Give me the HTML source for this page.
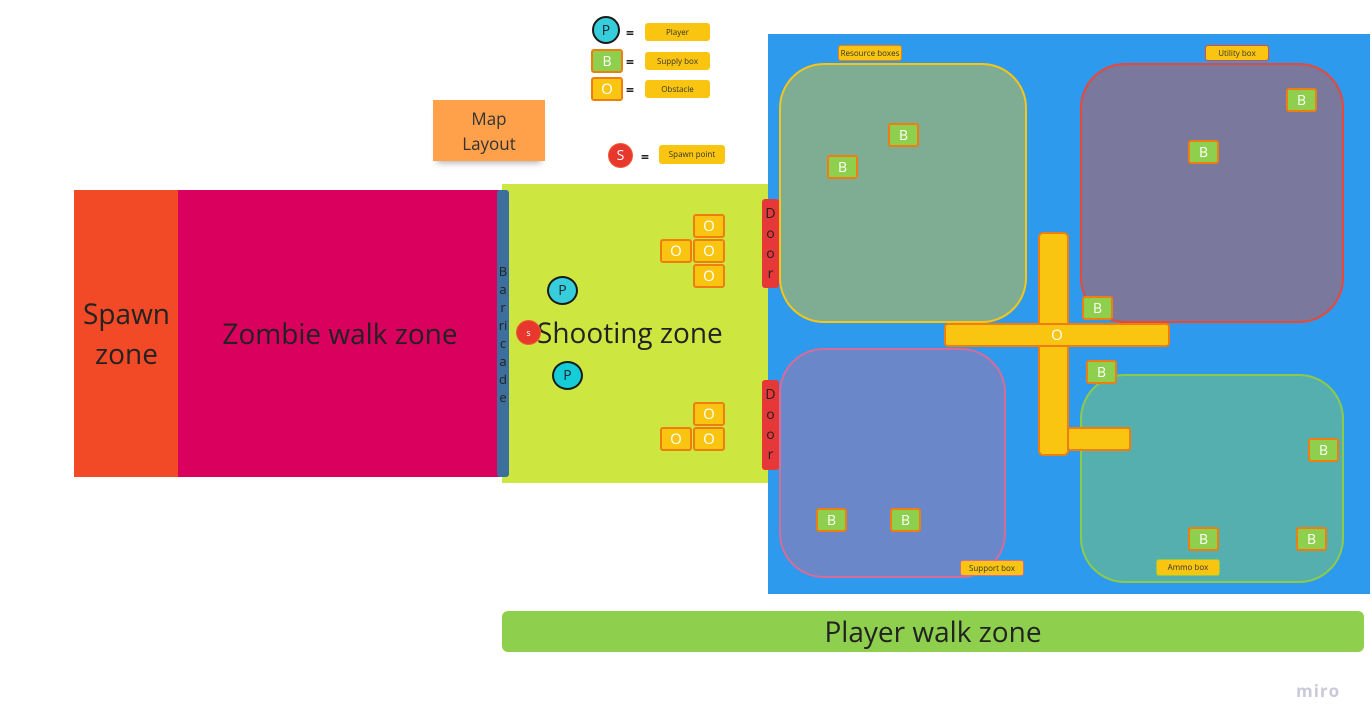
<!DOCTYPE html>
<html><head><meta charset="utf-8"><style>
body{margin:0;width:1372px;height:728px;background:#fff;position:relative;overflow:hidden;font-family:"Open Sans","DejaVu Sans","Liberation Sans",sans-serif}
div{position:absolute;box-sizing:border-box}
.c{display:flex;align-items:center;justify-content:center;text-align:center}
.B{width:31px;height:24px;background:#8ED04E;border:2.5px solid #EF7D10;border-radius:3px;color:#fff;font-size:14px}
.O{width:32px;height:24px;background:#F9C511;border:2.5px solid #EF7D10;border-radius:3px;color:#fff;font-size:15px}
.lab{background:#F9C511;border-radius:3px;font-size:8px;color:#333}
.room{border-radius:45px;border:2px solid}
.P{width:31px;height:29px;border-radius:50%;border:2.5px solid #1a1a1a;background:#36CEDB;font-size:14px;color:#223}
.eq{font-size:14px;font-weight:bold;color:#222}
.door{background:#E63838;border-radius:3px;width:17px;color:#222;font-size:14px;line-height:20px;flex-direction:column}
</style></head><body>
<div class="c" style="left:74px;top:190px;width:105px;height:287px;background:#F24A26;font-size:28px;color:#222;line-height:40px">Spawn<br>zone</div>
<div class="c" style="left:178px;top:190px;width:324px;height:287px;background:#D9005E;font-size:28px;color:#222">Zombie walk zone</div>
<div style="left:502px;top:184px;width:267px;height:299px;background:#CDE640"></div>
<div style="left:537px;top:314px;font-size:28px;color:#222;white-space:nowrap">Shooting zone</div>
<div class="c" style="left:497px;top:190px;width:12px;height:287px;background:#3C6E9E;border-radius:3px;flex-direction:column;font-size:13px;line-height:18px;color:#222">B<br>a<br>r<br>ri<br>c<br>a<br>d<br>e</div>
<div style="left:768px;top:34px;width:602px;height:560px;background:#2E9AEE"></div>
<div class="c door" style="left:762px;top:199px;height:89px">D<br>o<br>o<br>r</div>
<div class="c door" style="left:762px;top:380px;height:90px">D<br>o<br>o<br>r</div>
<div class="room" style="left:779px;top:63px;width:248px;height:260px;background:#7FAD94;border-color:#F5C518"></div>
<div class="room" style="left:1080px;top:63px;width:264px;height:260px;background:#7A789C;border-color:#E8483A"></div>
<div class="room" style="left:779px;top:348px;width:227px;height:230px;background:#6A87C9;border-color:#D56C9A"></div>
<div class="room" style="left:1080px;top:374px;width:264px;height:209px;background:#55AFAE;border-color:#8CCB4A"></div>
<div style="left:1038px;top:232px;width:31px;height:224px;background:#F9C511;border:2.5px solid #EF7D10;border-radius:5px"></div>
<div style="left:1067px;top:427px;width:64px;height:24px;background:#F9C511;border:2.5px solid #EF7D10;border-radius:3px"></div>
<div class="c" style="left:944px;top:323px;width:226px;height:24px;background:#F9C511;border:2.5px solid #EF7D10;border-radius:4px;color:#fff;font-size:15px">O</div>
<div class="c lab" style="left:838px;top:45px;width:64px;height:16px;border:1.5px solid #EF7D10">Resource boxes</div>
<div class="c lab" style="left:1205px;top:45px;width:64px;height:16px;border:1.5px solid #E8483A">Utility box</div>
<div class="c lab" style="left:960px;top:560px;width:64px;height:16px;border:1.5px solid #D56C9A">Support box</div>
<div class="c lab" style="left:1156px;top:559px;width:64px;height:17px;border:1.5px solid #8CCB4A">Ammo box</div>
<div class="c B" style="left:888px;top:123px">B</div>
<div class="c B" style="left:827px;top:155px">B</div>
<div class="c B" style="left:1188px;top:140px">B</div>
<div class="c B" style="left:1286px;top:88px">B</div>
<div class="c B" style="left:1082px;top:296px">B</div>
<div class="c B" style="left:1086px;top:360px">B</div>
<div class="c B" style="left:1308px;top:438px">B</div>
<div class="c B" style="left:1188px;top:527px">B</div>
<div class="c B" style="left:1296px;top:527px">B</div>
<div class="c B" style="left:816px;top:508px">B</div>
<div class="c B" style="left:890px;top:508px">B</div>
<div class="c O" style="left:693px;top:214px">O</div>
<div class="c O" style="left:660px;top:239px">O</div>
<div class="c O" style="left:693px;top:239px">O</div>
<div class="c O" style="left:693px;top:264px">O</div>
<div class="c O" style="left:693px;top:402px">O</div>
<div class="c O" style="left:660px;top:427px">O</div>
<div class="c O" style="left:693px;top:427px">O</div>
<div class="c P" style="left:547px;top:276px">P</div>
<div class="c P" style="left:552px;top:361px;background:#14CDD6">P</div>
<div class="c" style="left:516px;top:320px;width:25px;height:25px;border-radius:50%;background:#E8382E;border:1.5px solid #F05A30;color:#fff;font-size:9px">s</div>
<div class="c" style="left:502px;top:611px;width:862px;height:41px;background:#8ECF4D;border-radius:6px;font-size:28px;color:#222">Player walk zone</div>
<div class="c" style="left:433px;top:100px;width:112px;height:61px;background:#FFA04A;font-size:17px;color:#333;line-height:25px;box-shadow:0 6px 6px -4px rgba(0,0,0,.3)">Map<br>Layout</div>
<div class="c P" style="left:592px;top:16px;width:28px;height:28px;border-width:2px">P</div>
<div class="eq" style="left:626px;top:24px">=</div>
<div class="c lab" style="left:645px;top:23px;width:65px;height:18px">Player</div>
<div class="c B" style="left:591px;top:49px;width:32px;height:24px">B</div>
<div class="eq" style="left:626px;top:53px">=</div>
<div class="c lab" style="left:645px;top:52px;width:65px;height:18px">Supply box</div>
<div class="c O" style="left:591px;top:77px;width:32px;height:24px">O</div>
<div class="eq" style="left:626px;top:81px">=</div>
<div class="c lab" style="left:645px;top:80px;width:65px;height:18px">Obstacle</div>
<div class="c" style="left:608px;top:143px;width:25px;height:25px;border-radius:50%;background:#E8382E;border:1.5px solid #F05A30;color:#fff;font-size:14px">S</div>
<div class="eq" style="left:641px;top:148px">=</div>
<div class="c lab" style="left:659px;top:145px;width:66px;height:19px">Spawn point</div>
<div style="left:1296px;top:679px;font-size:17px;color:#C9C9DA;font-weight:bold;letter-spacing:1px">miro</div>
</body></html>
